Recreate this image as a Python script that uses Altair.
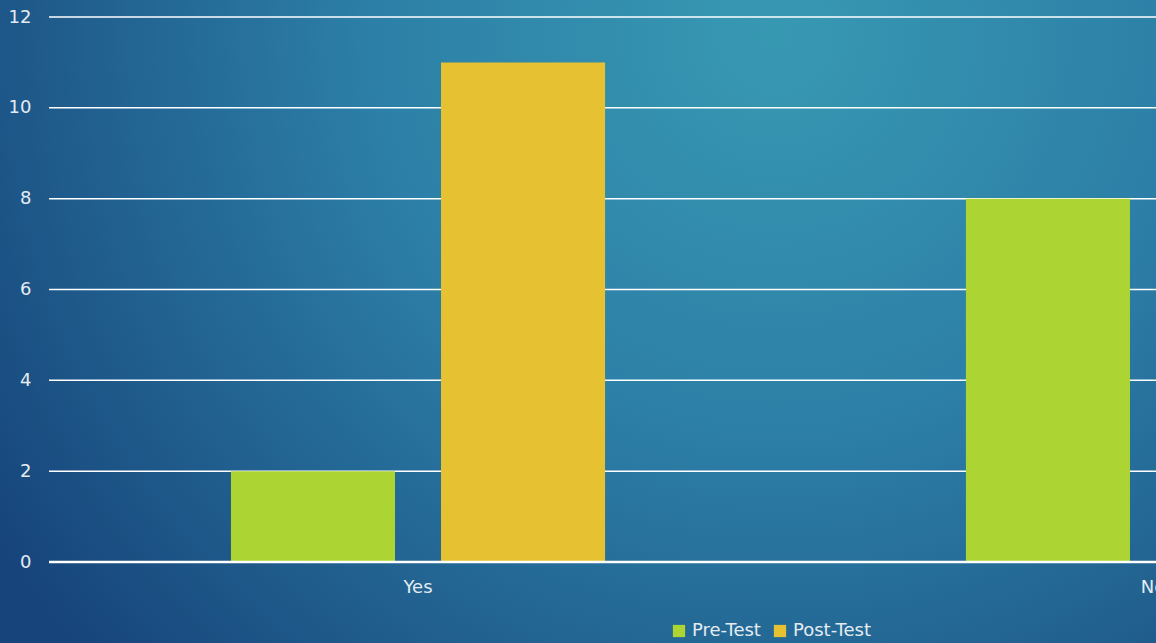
import altair as alt
import pandas as pd

categories = ["Yes", "No"]
series = ["Pre-Test", "Post-Test"]
pre_test = [2, 8]
post_test = [11, 0]
y_ticks = [0, 2, 4, 6, 8, 10, 12]

rows = []
for i, c in enumerate(categories):
    rows.append({"answer": c, "test": "Pre-Test", "value": pre_test[i]})
    rows.append({"answer": c, "test": "Post-Test", "value": post_test[i]})
df = pd.DataFrame(rows)

FONT = "DejaVu Sans"
W, H = 1107, 545
LABEL = "#e4ecf2"

bg = alt.Chart(pd.DataFrame({"a": [0]})).mark_rect(
    color={
        "gradient": "radial",
        "x1": 0.67, "y1": 0.25, "r1": 0.0,
        "x2": 0.67, "y2": 0.25, "r2": 0.8,
        "stops": [
            {"offset": 0.0, "color": "#3899b3"},
            {"offset": 0.45, "color": "#2c7ea6"},
            {"offset": 1.0, "color": "#17457b"},
        ],
    }
).encode(
    x=alt.value(-49), x2=alt.value(W), y=alt.value(-17), y2=alt.value(643 - 17)
)

yscale = alt.Scale(domain=[0, 12], nice=False)
yaxis = alt.Axis(
    values=y_ticks, labelFont=FONT, labelFontSize=18, labelColor=LABEL,
    labelPadding=18, ticks=False, domain=False, grid=False, zindex=1,
)

grid = alt.Chart(pd.DataFrame({"t": y_ticks[1:]})).mark_rule(
    color="white", strokeWidth=1.5
).encode(
    y=alt.Y("t:Q", scale=yscale, axis=yaxis, title=None), x=alt.value(0), x2=alt.value(W)
)

bars = alt.Chart(df).mark_bar(clip=True).encode(
    x=alt.X(
        "answer:N",
        sort=categories,
        title=None,
        scale=alt.Scale(range=[0, 1473], paddingInner=0.491, paddingOuter=0.2476),
        axis=alt.Axis(
            labelAngle=0, labelFont=FONT, labelFontSize=18, labelColor=LABEL,
            labelPadding=16, ticks=False, domain=False, grid=False, zindex=1,
        ),
    ),
    xOffset=alt.XOffset("test:N", sort=series, scale=alt.Scale(paddingInner=0.219)),
    y=alt.Y("value:Q", title=None, scale=yscale, axis=yaxis),
    color=alt.Color(
        "test:N",
        sort=series,
        scale=alt.Scale(domain=series, range=["#acd433", "#e6c232"]),
        legend=alt.Legend(
            title=None, orient="none", legendX=621, legendY=605, direction="horizontal",
            symbolType="square", symbolSize=150, symbolStrokeWidth=0,
            labelFont=FONT, labelFontSize=18, labelColor=LABEL,
            columnPadding=10, labelOffset=4,
        ),
    ),
)

zero = alt.Chart(pd.DataFrame({"z": [0]})).mark_rule(color="white", strokeWidth=2.5).encode(
    y=alt.Y("z:Q", scale=yscale, axis=yaxis, title=None), x=alt.value(0), x2=alt.value(W)
)

chart = alt.layer(bg, grid, bars, zero).properties(
    width=W, height=H,
    autosize=alt.AutoSizeParams(type="none"),
    padding={"left": 49, "top": 17, "right": 0, "bottom": 81},
).configure_view(stroke=None).configure(background="#1d5186")

chart.save("out.html", embed_options={"renderer": "svg", "actions": False})
